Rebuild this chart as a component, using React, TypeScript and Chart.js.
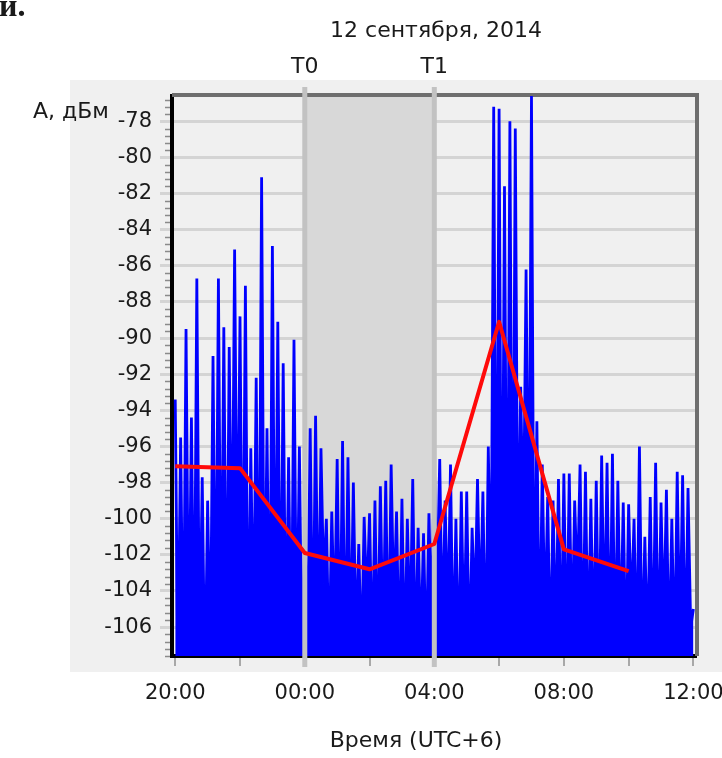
import { useEffect, useRef } from 'react';
import { Chart, registerables } from 'chart.js';

Chart.register(...registerables);

// Received signal level. Readings come every 5 minutes from 20:00 and swing
// between a local maximum and a local minimum, so each block below lists the
// maxima and the minima separately (they alternate in time, maximum first).
const sampleMinutes = 5;

const peaks2000 = [-93.4, -95.5, -89.5, -94.4, -86.7, -97.7, -99, -91, -86.7, -89.4, -90.5, -85.1, -88.8, -87.1, -96.1, -92.2, -81.1, -95, -84.9, -89.1, -91.4, -96.6, -90.1, -96];
const troughs2000 = [-108.5, -109, -108, -109, -108, -109.5, -108, -108.5, -108, -108.5, -104.2, -104.2, -108, -109, -106.7, -108.5, -108, -109, -108, -108.5, -108, -108.5, -108, -109];

const peaks0000 = [-99.5, -95.0, -94.3, -96.1, -100, -99.6, -96.7, -95.7, -96.6, -98, -101.4, -99.9, -99.7, -99, -98.2, -97.9, -97, -99.6, -98.9, -100, -97.8, -100.5, -100.8, -99.7];
const troughs0000 = [-108, -108, -107, -103.6, -108, -106, -108, -108.5, -107.5, -107, -108, -104.7, -108, -108, -107, -108, -105, -108, -108, -106.5, -108, -107.2, -108, -106];

const peaks0400 = [-96.7, -96.7, -99, -97, -100, -98.5, -98.5, -100.5, -97.8, -98.5, -96.0, -77.2, -77.3, -81.6, -78.0, -78.4, -92.7, -86.2, -76.6, -94.6, -97, -98.8, -99, -97.8];
const troughs0400 = [-104, -106.5, -106, -108, -108.5, -107, -108, -105.2, -105.5, -108, -105.6, -108, -108, -108, -108, -104, -101, -104, -108, -108, -106, -108, -107, -108];

const peaks0800 = [-97.5, -97.5, -99, -97.0, -97.4, -98.9, -97.9, -96.5, -96.9, -96.4, -97.9, -99.1, -99.2, -100, -96.0, -101, -98.8, -96.9, -99.1, -98.4, -100, -97.4, -97.6, -98.3, -105];
const troughs0800 = [-108, -107, -103.9, -108, -108, -107.5, -108, -106.5, -108, -108, -107, -108, -105.4, -108, -108, -107.5, -108, -108, -106, -108, -108, -107, -108, -106];

// Two-hour averaged level (hours counted from 20:00).
const trendHours = [0, 2, 4, 6, 8, 10, 12, 14];
const trendDbm = [-97.1, -97.2, -101.9, -102.8, -101.4, -89.1, -101.7, -102.9];

const yTickValues = [-106, -104, -102, -100, -98, -96, -94, -92, -90, -88, -86, -84, -82, -80, -78];
const xTickHours = [0, 2, 4, 6, 8, 10, 12, 14, 16];
const xTickLabels = ['20:00', '', '00:00', '', '04:00', '', '08:00', '', '12:00'];

const markerHours = [4, 8];
const markerLabels = ['T0', 'T1'];

const titleText = '12 сентября, 2014';
const yAxisText = 'А, дБм';
const xAxisText = 'Время (UTC+6)';

const FONT = '"DejaVu Sans", sans-serif';
const TEXT = '#1a1a1a';

function interleave(peaks: number[], troughs: number[]): number[] {
  const out: number[] = [];
  peaks.forEach((p, i) => {
    out.push(p);
    if (i < troughs.length) out.push(troughs[i]);
  });
  return out;
}

const signalDbm = [
  ...interleave(peaks2000, troughs2000),
  ...interleave(peaks0000, troughs0000),
  ...interleave(peaks0400, troughs0400),
  ...interleave(peaks0800, troughs0800),
];

const decorPlugin = {
  id: 'decor',
  beforeDraw(chart: any) {
    const { ctx } = chart;
    ctx.save();
    ctx.fillStyle = '#f0f0f0';
    ctx.fillRect(70, 80, 652, 592);
    ctx.restore();
  },
  beforeDatasetsDraw(chart: any) {
    const { ctx, chartArea: a, scales } = chart;
    const x = scales.x;
    const y = scales.y;
    ctx.save();
    // shaded interval between the two markers
    const x0 = x.getPixelForValue(markerHours[0]);
    const x1 = x.getPixelForValue(markerHours[1]);
    ctx.fillStyle = '#d8d8d8';
    ctx.fillRect(x0, a.top, x1 - x0, a.bottom - a.top - 2);
    // frame: top and right edges
    ctx.strokeStyle = '#6e6e6e';
    ctx.lineWidth = 4;
    ctx.beginPath();
    ctx.moveTo(a.left, a.top - 1);
    ctx.lineTo(a.right + 1, a.top - 1);
    ctx.lineTo(a.right + 1, a.bottom);
    ctx.stroke();
    // minor ticks on the value axis
    ctx.strokeStyle = '#8a8a8a';
    ctx.lineWidth = 1.5;
    const step = 0.4;
    const first = yTickValues[0];
    for (let k = -5; k < 100; k++) {
      const v = first + k * step;
      if (v < y.min || v > y.max) continue;
      const r = Math.abs((v - first) / 2 - Math.round((v - first) / 2));
      if (r < 1e-6) continue;
      const py = Math.round(y.getPixelForValue(v)) + 0.5;
      ctx.beginPath();
      ctx.moveTo(a.left - 7, py);
      ctx.lineTo(a.left - 2, py);
      ctx.stroke();
    }
    ctx.restore();
  },
  afterDatasetDraw(chart: any, args: any) {
    if (args.index !== 1) return;
    const { ctx, chartArea: a, scales } = chart;
    ctx.save();
    ctx.strokeStyle = '#c2c2c2';
    ctx.lineWidth = 5;
    markerHours.forEach((h) => {
      const px = scales.x.getPixelForValue(h);
      ctx.beginPath();
      ctx.moveTo(px, a.top - 9);
      ctx.lineTo(px, a.bottom + 11);
      ctx.stroke();
    });
    ctx.restore();
  },
  afterDraw(chart: any) {
    const { ctx, chartArea: a, scales } = chart;
    ctx.save();
    ctx.fillStyle = TEXT;
    ctx.font = `22px ${FONT}`;
    ctx.textBaseline = 'middle';
    ctx.textAlign = 'center';
    ctx.fillText(titleText, (a.left + a.right) / 2 + 2, 31);
    markerHours.forEach((h, i) => {
      ctx.fillText(markerLabels[i], scales.x.getPixelForValue(h), 67);
    });
    ctx.fillText(xAxisText, 416, 741);
    ctx.textAlign = 'left';
    ctx.fillText(yAxisText, 33, 112);
    ctx.font = 'bold 32px "Liberation Serif", serif';
    ctx.textBaseline = 'alphabetic';
    ctx.fillText('и.', -1, 16);
    ctx.restore();
  },
};

export default function App() {
  const canvasRef = useRef<HTMLCanvasElement | null>(null);

  useEffect(() => {
    if (!canvasRef.current) return;
    Chart.defaults.font.family = FONT;
    const chart = new Chart(canvasRef.current, {
      type: 'line',
      data: {
        datasets: [
          {
            data: trendHours.map((h, i) => ({ x: h, y: trendDbm[i] })),
            borderColor: '#ff0a0a',
            borderWidth: 4,
            borderJoinStyle: 'round',
            pointRadius: 0,
            tension: 0,
            clip: 0,
          },
          {
            data: signalDbm.map((v, i) => ({ x: (i * sampleMinutes) / 60, y: v })),
            borderColor: '#0000ff',
            backgroundColor: '#0000ff',
            fill: 'start',
            borderWidth: 2.8,
            pointRadius: 0,
            tension: 0,
            clip: 0,
          },
        ],
      },
      options: {
        animation: false,
        responsive: false,
        devicePixelRatio: 1,
        layout: { padding: { left: 72, right: 26, top: 96, bottom: 42 } },
        plugins: {
          legend: { display: false },
          tooltip: { enabled: false },
          title: { display: false },
          filler: { propagate: false },
        },
        scales: {
          x: {
            type: 'linear',
            min: -0.1,
            max: 16.08,
            afterBuildTicks: (s: any) => {
              s.ticks = xTickHours.map((v) => ({ value: v }));
            },
            afterFit: (s: any) => {
              s.height = 60;
              s.paddingLeft = 0;
              s.paddingRight = 0;
            },
            ticks: {
              autoSkip: false,
              maxRotation: 0,
              padding: 15,
              color: TEXT,
              font: { size: 21, family: FONT },
              callback: (_v: any, i: number) => xTickLabels[i],
            },
            grid: { drawOnChartArea: false, drawTicks: true, tickLength: 10, color: '#a8a8a8', lineWidth: 2 },
            border: { display: true, color: '#000000', width: 4 },
          },
          y: {
            type: 'linear',
            min: -107.6,
            max: -76.6,
            afterBuildTicks: (s: any) => {
              s.ticks = yTickValues.map((v) => ({ value: v }));
            },
            afterFit: (s: any) => {
              s.width = 100;
            },
            ticks: {
              autoSkip: false,
              padding: 8,
              color: TEXT,
              font: { size: 21, family: FONT },
              callback: (v: any) => String(v),
            },
            grid: { color: '#d4d4d4', lineWidth: 3, tickLength: 12, drawTicks: true },
            border: { display: true, color: '#000000', width: 4 },
          },
        },
      },
      plugins: [decorPlugin],
    } as any);
    return () => chart.destroy();
  }, []);

  return (
    <div style={{ position: 'absolute', left: 0, top: 0, width: 722, height: 758 }}>
      <canvas ref={canvasRef} width={722} height={758} style={{ display: 'block' }} />
    </div>
  );
}
